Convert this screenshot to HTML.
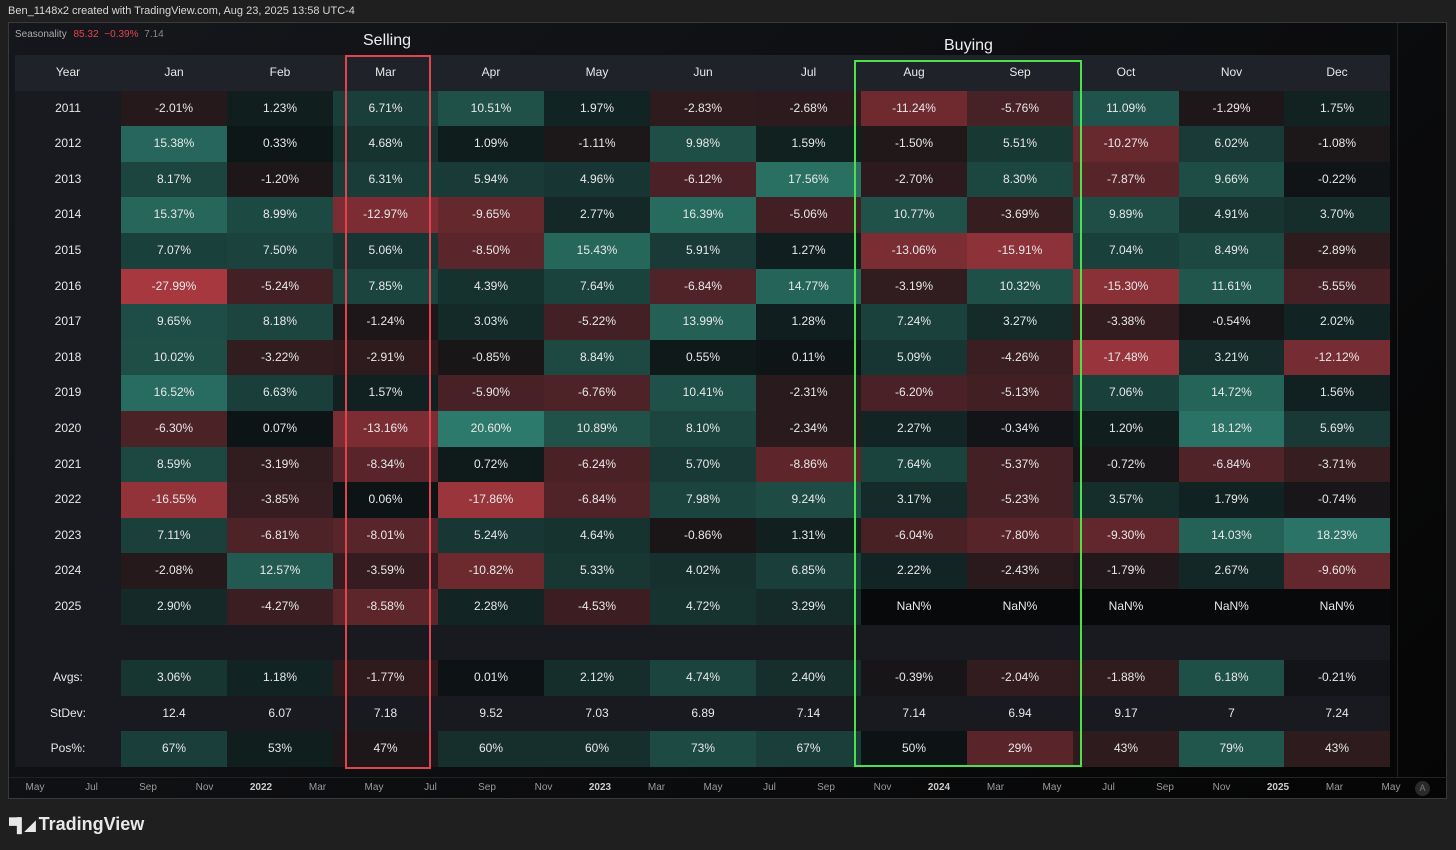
<!DOCTYPE html>
<html><head><meta charset="utf-8">
<style>
body{margin:0;width:1456px;height:850px;background:#1f1f1f;overflow:hidden;font-family:"Liberation Sans",sans-serif;position:relative}
.t{position:absolute;white-space:nowrap}
#panel{position:absolute;left:8px;top:22px;width:1439px;height:777px;background:linear-gradient(135deg,#15171c,#050505);border:1px solid #3a3a3a;box-sizing:border-box}
.cell{position:absolute;color:#e8e8e8;font-size:12px;text-align:center;line-height:35px}
.ax{position:absolute;top:782px;font-size:10px;color:#9a9a9a;transform:translateX(-50%)}
</style></head><body>
<div class="t" style="left:8px;top:5px;font-size:11px;color:#d8d8d8">Ben_1148x2 created with TradingView.com, Aug 23, 2025 13:58 UTC-4</div>
<div id="panel"></div>
<div style="position:absolute;left:1397px;top:23px;width:1px;height:755px;background:#222"></div>
<div style="position:absolute;left:9px;top:777px;width:1438px;height:1px;background:#222"></div>
<div class="t" style="left:15px;top:29px;font-size:10px;color:#aaa">Seasonality <span style="color:#e0454f;margin-left:4px">85.32</span> <span style="color:#e0454f;margin-left:3px">−0.39%</span> <span style="color:#888;margin-left:3px">7.14</span></div>
<div id="tbl"></div>
<div style="position:absolute;left:345px;top:55px;width:86px;height:714px;border:2px solid #e0454f;box-sizing:border-box"></div>
<div class="t" style="left:363px;top:32px;font-size:16px;color:#eee">Selling</div>
<div style="position:absolute;left:854px;top:60px;width:228px;height:707px;border:2px solid #4ce04c;box-sizing:border-box"></div>
<div class="t" style="left:944px;top:37px;font-size:16px;color:#eee">Buying</div>
<div id="axis"></div>
<div style="position:absolute;left:1415px;top:781px;width:15px;height:15px;border-radius:50%;background:#2a2a2a;color:#777;font-size:9px;text-align:center;line-height:15px">A</div>
<div class="t" style="left:9px;top:814px;font-size:18px;font-weight:bold;color:#e8e8e8"><span style="font-size:14px;letter-spacing:-2px">▀▌◢</span> TradingView</div>
<script>
const months=["Jan","Feb","Mar","Apr","May","Jun","Jul","Aug","Sep","Oct","Nov","Dec"];
const years=[2011,2012,2013,2014,2015,2016,2017,2018,2019,2020,2021,2022,2023,2024,2025];
const returns=[
[-2.01,1.23,6.71,10.51,1.97,-2.83,-2.68,-11.24,-5.76,11.09,-1.29,1.75],
[15.38,0.33,4.68,1.09,-1.11,9.98,1.59,-1.50,5.51,-10.27,6.02,-1.08],
[8.17,-1.20,6.31,5.94,4.96,-6.12,17.56,-2.70,8.30,-7.87,9.66,-0.22],
[15.37,8.99,-12.97,-9.65,2.77,16.39,-5.06,10.77,-3.69,9.89,4.91,3.70],
[7.07,7.50,5.06,-8.50,15.43,5.91,1.27,-13.06,-15.91,7.04,8.49,-2.89],
[-27.99,-5.24,7.85,4.39,7.64,-6.84,14.77,-3.19,10.32,-15.30,11.61,-5.55],
[9.65,8.18,-1.24,3.03,-5.22,13.99,1.28,7.24,3.27,-3.38,-0.54,2.02],
[10.02,-3.22,-2.91,-0.85,8.84,0.55,0.11,5.09,-4.26,-17.48,3.21,-12.12],
[16.52,6.63,1.57,-5.90,-6.76,10.41,-2.31,-6.20,-5.13,7.06,14.72,1.56],
[-6.30,0.07,-13.16,20.60,10.89,8.10,-2.34,2.27,-0.34,1.20,18.12,5.69],
[8.59,-3.19,-8.34,0.72,-6.24,5.70,-8.86,7.64,-5.37,-0.72,-6.84,-3.71],
[-16.55,-3.85,0.06,-17.86,-6.84,7.98,9.24,3.17,-5.23,3.57,1.79,-0.74],
[7.11,-6.81,-8.01,5.24,4.64,-0.86,1.31,-6.04,-7.80,-9.30,14.03,18.23],
[-2.08,12.57,-3.59,-10.82,5.33,4.02,6.85,2.22,-2.43,-1.79,2.67,-9.60],
[2.90,-4.27,-8.58,2.28,-4.53,4.72,3.29,null,null,null,null,null]];
const avgs=[3.06,1.18,-1.77,0.01,2.12,4.74,2.40,-0.39,-2.04,-1.88,6.18,-0.21];
const stdev=["12.4","6.07","7.18","9.52","7.03","6.89","7.14","7.14","6.94","9.17","7","7.24"];
const pos=[67,53,47,60,60,73,67,50,29,43,79,43];
const axisLabels=["May","Jul","Sep","Nov","2022","Mar","May","Jul","Sep","Nov","2023","Mar","May","Jul","Sep","Nov","2024","Mar","May","Jul","Sep","Nov","2025","Mar","May"];

const X0=15,YW=106,CW=105.75,Y0=55,RH=35.6;
const tbl=document.getElementById('tbl');
function col(v,scale){
  if(v===null)return '#07090b';
  let t=Math.min(Math.abs(v)/scale,1);
  const base=[13,19,21];
  const g=[44,122,108],r=[168,56,64];
  const c=v>=0?g:r;
  const m=base.map((b,i)=>Math.round(b+(c[i]-b)*Math.pow(t,0.8)));
  return 'rgb('+m.join(',')+')';
}
function cell(x,y,w,txt,bg,name){
  const d=document.createElement('div');
  d.className='cell';
  
  
  d.style.left=Math.round(x)+'px';d.style.top=y+'px';d.style.width=(Math.round(x+w)-Math.round(x))+'px';d.style.height=Math.ceil(RH)+'px';
  d.style.background=bg;d.textContent=txt;
  tbl.appendChild(d);
}
function mx(i){return X0+YW+i*CW;}
const HDR='#1f2229',ROW='#181a1f';
cell(X0,Y0,YW,'Year',HDR,'header-year');
months.forEach((m,i)=>cell(mx(i),Y0,CW,m,HDR,'header-'+m.toLowerCase()));
years.forEach((yr,r)=>{
  const y=Y0+RH*(r+1);
  cell(X0,y,YW,String(yr),ROW,'year-label-'+yr);
  returns[r].forEach((v,i)=>cell(mx(i),y,CW,v===null?'NaN%':v.toFixed(2)+'%',col(v,20),'cell-'+yr+'-'+months[i].toLowerCase()));
});
let yb=Y0+RH*16;
cell(X0,yb,1390-X0,'',ROW,'spacer-row');
yb+=RH;
cell(X0,yb,YW,'Avgs:',ROW,'avgs-label');
avgs.forEach((v,i)=>cell(mx(i),yb,CW,v.toFixed(2)+'%',col(v,12),'avg-'+months[i].toLowerCase()));
yb+=RH;
cell(X0,yb,YW,'StDev:',ROW,'stdev-label');
stdev.forEach((v,i)=>cell(mx(i),yb,CW,v,ROW,'stdev-'+months[i].toLowerCase()));
yb+=RH;
cell(X0,yb,YW,'Pos%:',ROW,'pos-label');
pos.forEach((v,i)=>cell(mx(i),yb,CW,v+'%',col(v-50,50),'pos-'+months[i].toLowerCase()));
const ax=document.getElementById('axis');
axisLabels.forEach((l,i)=>{
  const d=document.createElement('div');
  d.className='ax';
  
  
  d.style.left=(35+i*56.5)+'px';
  if(/^\d+$/.test(l)){d.style.fontWeight='bold';d.style.color='#ccc';}
  d.textContent=l;ax.appendChild(d);
});
</script>
</body></html>
